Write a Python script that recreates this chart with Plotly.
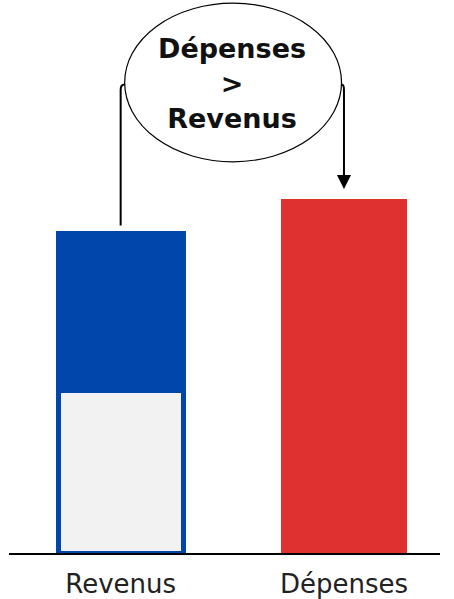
import plotly.graph_objects as go

categories = ["Revenus", "Dépenses"]
x_pos = [0, 1]
revenus_bas = [46]      # partie grise (bordure bleue)
revenus_haut = [45]     # partie bleue
depenses = [100]

blue = "#0146AA"
red = "#E03131"
grey = "#F2F2F2"

fig = go.Figure()

# Revenus : bas gris encadré de bleu
fig.add_trace(
    go.Bar(
        x=[x_pos[0]],
        y=revenus_bas,
        width=0.56,
        marker=dict(color=grey, line=dict(color=blue, width=5)),
        hoverinfo="skip",
    )
)

# Revenus : haut bleu
fig.add_trace(
    go.Bar(
        x=[x_pos[0]],
        y=revenus_haut,
        width=0.583,
        marker=dict(color=blue, line=dict(width=0)),
        hoverinfo="skip",
    )
)

# Dépenses
fig.add_trace(
    go.Bar(
        x=[x_pos[1]],
        y=depenses,
        width=0.56,
        marker=dict(color=red, line=dict(width=0)),
        hoverinfo="skip",
    )
)

rev_total = revenus_bas[0] + revenus_haut[0]
y_link = 132.3

# Bulle "Dépenses > Revenus"
fig.add_shape(
    type="circle",
    xref="x", yref="y",
    x0=0.018, x1=0.989,
    y0=110.5, y1=155.3,
    line=dict(color="black", width=1.2),
    fillcolor="white",
    layer="above",
)
fig.add_annotation(
    x=0.5, y=y_link + 0.3,
    xref="x", yref="y",
    text="<b>Dépenses<br>&gt;<br>Revenus</b>",
    showarrow=False,
    font=dict(family="DejaVu Sans", size=27, color="#111111"),
    align="center",
)

# Trait gauche vers Revenus
fig.add_shape(
    type="path",
    xref="x", yref="y",
    path=f"M 0.018,{y_link} Q 0,{y_link} 0,{y_link - 1.5} L 0,{rev_total + 1.5}",
    line=dict(color="black", width=2),
)

# Flèche droite vers Dépenses
fig.add_shape(
    type="path",
    xref="x", yref="y",
    path=f"M 0.989,{y_link} Q 1,{y_link} 1,{y_link - 1.5} L 1,{depenses[0] + 6}",
    line=dict(color="black", width=2),
)
fig.add_annotation(
    x=1, y=depenses[0] + 2.8,
    ax=1, ay=depenses[0] + 8,
    xref="x", yref="y", axref="x", ayref="y",
    text="",
    showarrow=True,
    arrowhead=2,
    arrowsize=1.4,
    arrowwidth=2,
    arrowcolor="black",
    standoff=0,
)

fig.update_layout(
    width=454,
    height=599,
    barmode="stack",
    showlegend=False,
    margin=dict(l=9, r=14, t=0, b=43),
    plot_bgcolor="white",
    paper_bgcolor="white",
    xaxis=dict(
        range=[-0.5, 1.43],
        tickvals=x_pos,
        ticktext=categories,
        showgrid=False,
        zeroline=False,
        showline=True,
        linecolor="black",
        linewidth=1.5,
        ticks="",
        ticklabelstandoff=7,
        tickfont=dict(family="DejaVu Sans", size=26, color="#222222"),
    ),
    yaxis=dict(
        range=[0, 156.2],
        visible=False,
    ),
)

fig.write_html(
    "out.html",
    config={"displayModeBar": False},
    post_script="document.body.style.margin='0';",
)
